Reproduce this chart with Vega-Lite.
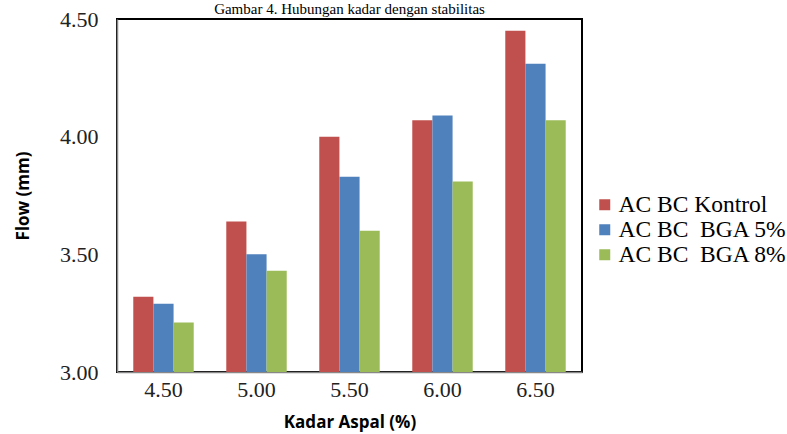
{
  "$schema": "https://vega.github.io/schema/vega-lite/v6.json",
  "width": 465,
  "height": 353,
  "autosize": {"type": "none"},
  "padding": {"left": 117, "top": 19, "right": 205, "bottom": 62},
  "background": "white",
  "title": {
    "text": "Gambar 4. Hubungan kadar dengan stabilitas",
    "font": "Liberation Serif",
    "fontSize": 15,
    "fontWeight": "normal",
    "color": "black",
    "baseline": "bottom",
    "offset": -24,
    "anchor": "middle"
  },
  "data": {
    "values": [
      {"kadar": "4.50", "seri": "AC BC Kontrol", "flow": 3.32},
      {"kadar": "4.50", "seri": "AC BC\u00a0 BGA 5%", "flow": 3.29},
      {"kadar": "4.50", "seri": "AC BC\u00a0 BGA 8%", "flow": 3.21},
      {"kadar": "5.00", "seri": "AC BC Kontrol", "flow": 3.64},
      {"kadar": "5.00", "seri": "AC BC\u00a0 BGA 5%", "flow": 3.50},
      {"kadar": "5.00", "seri": "AC BC\u00a0 BGA 8%", "flow": 3.43},
      {"kadar": "5.50", "seri": "AC BC Kontrol", "flow": 4.00},
      {"kadar": "5.50", "seri": "AC BC\u00a0 BGA 5%", "flow": 3.83},
      {"kadar": "5.50", "seri": "AC BC\u00a0 BGA 8%", "flow": 3.60},
      {"kadar": "6.00", "seri": "AC BC Kontrol", "flow": 4.07},
      {"kadar": "6.00", "seri": "AC BC\u00a0 BGA 5%", "flow": 4.09},
      {"kadar": "6.00", "seri": "AC BC\u00a0 BGA 8%", "flow": 3.81},
      {"kadar": "6.50", "seri": "AC BC Kontrol", "flow": 4.45},
      {"kadar": "6.50", "seri": "AC BC\u00a0 BGA 5%", "flow": 4.31},
      {"kadar": "6.50", "seri": "AC BC\u00a0 BGA 8%", "flow": 4.07}
    ]
  },
  "mark": {"type": "bar", "clip": true},
  "encoding": {
    "x": {
      "field": "kadar",
      "type": "ordinal",
      "scale": {"paddingInner": 0.35, "paddingOuter": 0.175},
      "axis": {
        "title": "Kadar Aspal (%)",
        "titleFont": "Open Sans",
        "titleFontWeight": "bold",
        "titleFontSize": 17,
        "titleColor": "black",
        "titlePadding": 14,
        "labelFont": "Liberation Serif",
        "labelFontSize": 22,
        "labelColor": "#222",
        "labelAngle": 0,
        "labelPadding": 7,
        "ticks": false,
        "domainColor": "#888",
        "domainWidth": 1.5
      }
    },
    "xOffset": {"field": "seri", "type": "nominal", "sort": ["AC BC Kontrol", "AC BC\u00a0 BGA 5%", "AC BC\u00a0 BGA 8%"]},
    "y": {
      "field": "flow",
      "type": "quantitative",
      "scale": {"domain": [3.0, 4.5], "zero": false, "nice": false},
      "axis": {
        "title": "Flow (mm)",
        "titleFont": "Open Sans",
        "titleFontWeight": "bold",
        "titleFontSize": 17,
        "titleColor": "black",
        "titlePadding": 27,
        "labelFont": "Liberation Serif",
        "labelFontSize": 22,
        "labelColor": "#222",
        "labelPadding": 19,
        "values": [3.0, 3.5, 4.0, 4.5],
        "format": ".2f",
        "ticks": false,
        "grid": false,
        "domainColor": "#888",
        "domainWidth": 1.5
      }
    },
    "color": {
      "field": "seri",
      "type": "nominal",
      "sort": ["AC BC Kontrol", "AC BC\u00a0 BGA 5%", "AC BC\u00a0 BGA 8%"],
      "scale": {"domain": ["AC BC Kontrol", "AC BC\u00a0 BGA 5%", "AC BC\u00a0 BGA 8%"], "range": ["#C0504D", "#4F81BD", "#9BBB59"]},
      "legend": {
        "title": null,
        "orient": "none",
        "legendX": 476,
        "legendY": 174,
        "symbolType": "square",
        "symbolSize": 121,
        "symbolStrokeWidth": 0,
        "labelFont": "Liberation Serif",
        "labelFontSize": 23.5,
        "labelColor": "black",
        "labelLimit": 300,
        "rowPadding": 0,
        "labelOffset": 2
      }
    }
  },
  "config": {
    "view": {"stroke": "black", "strokeWidth": 2},
    "bar": {"stroke": null}
  }
}
